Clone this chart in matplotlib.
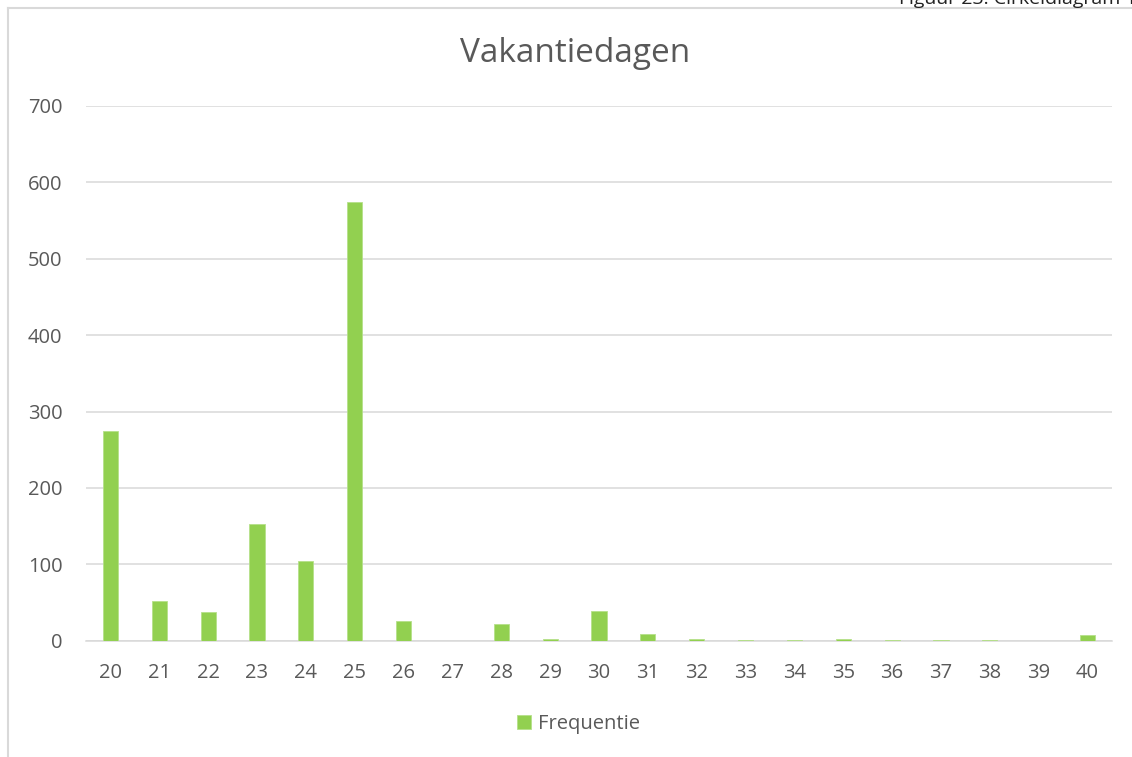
import matplotlib
matplotlib.use("Agg")
import matplotlib.pyplot as plt
from matplotlib.lines import Line2D

# data
dagen = [str(d) for d in range(20, 41)]
frequentie = [275, 52, 38, 153, 104, 574, 26, 0, 22, 2, 39, 9, 2, 1, 0.5, 2, 0.5, 0.5, 1, 0, 7]
y_ticks = [0, 100, 200, 300, 400, 500, 600, 700]

GREEN = "#92D050"
GRID = "#D9D9D9"
TEXT = "#595959"

plt.rcParams["font.family"] = ["Open Sans", "DejaVu Sans"]

fig = plt.figure(figsize=(11.32, 7.57), dpi=100)
ax = fig.add_axes([0.076, 0.1536, 0.9063, 0.7064])

x = range(len(dagen))
ax.bar(x, frequentie, width=0.31, color=GREEN, edgecolor="#B5E08A",
       linewidth=0.6, label="Frequentie", zorder=3)

ax.set_xlim(-0.5, len(dagen) - 0.5)
ax.set_ylim(0, 700)
ax.set_yticks(y_ticks)
ax.set_xticks(list(x))
ax.set_xticklabels(dagen)

ax.yaxis.grid(True, color=GRID, linewidth=1.1, zorder=0)
for s in ("top", "right", "left"):
    ax.spines[s].set_visible(False)
ax.spines["bottom"].set_color(GRID)
ax.spines["bottom"].set_linewidth(1.1)
ax.tick_params(axis="both", length=0, labelsize=14.5, labelcolor=TEXT)
ax.tick_params(axis="x", pad=16)
ax.tick_params(axis="y", pad=17)

fig.text(0.508, 0.929, "Vakantiedagen", ha="center", va="center",
         fontsize=24, color=TEXT)

leg = fig.legend(loc="center", bbox_to_anchor=(0.511, 0.044), frameon=False,
                 fontsize=14.5, handlelength=0.7, handleheight=0.7,
                 handletextpad=0.35)
for t in leg.get_texts():
    t.set_color(TEXT)

# chart frame and caption cut off at the top edge, as in the source image
fig.add_artist(Line2D([8 / 1132, 1.0], [1 - 8 / 757, 1 - 8 / 757],
                      color=GRID, linewidth=1.5, transform=fig.transFigure))
fig.add_artist(Line2D([8 / 1132, 8 / 1132], [0.0, 1 - 8 / 757],
                      color=GRID, linewidth=1.5, transform=fig.transFigure))
fig.text(1.004, 1 - 4 / 757, "Figuur 23: Cirkeldiagram 1", ha="right",
         va="baseline", fontsize=14, color="#222222")

fig.savefig("out.png", dpi=100)
